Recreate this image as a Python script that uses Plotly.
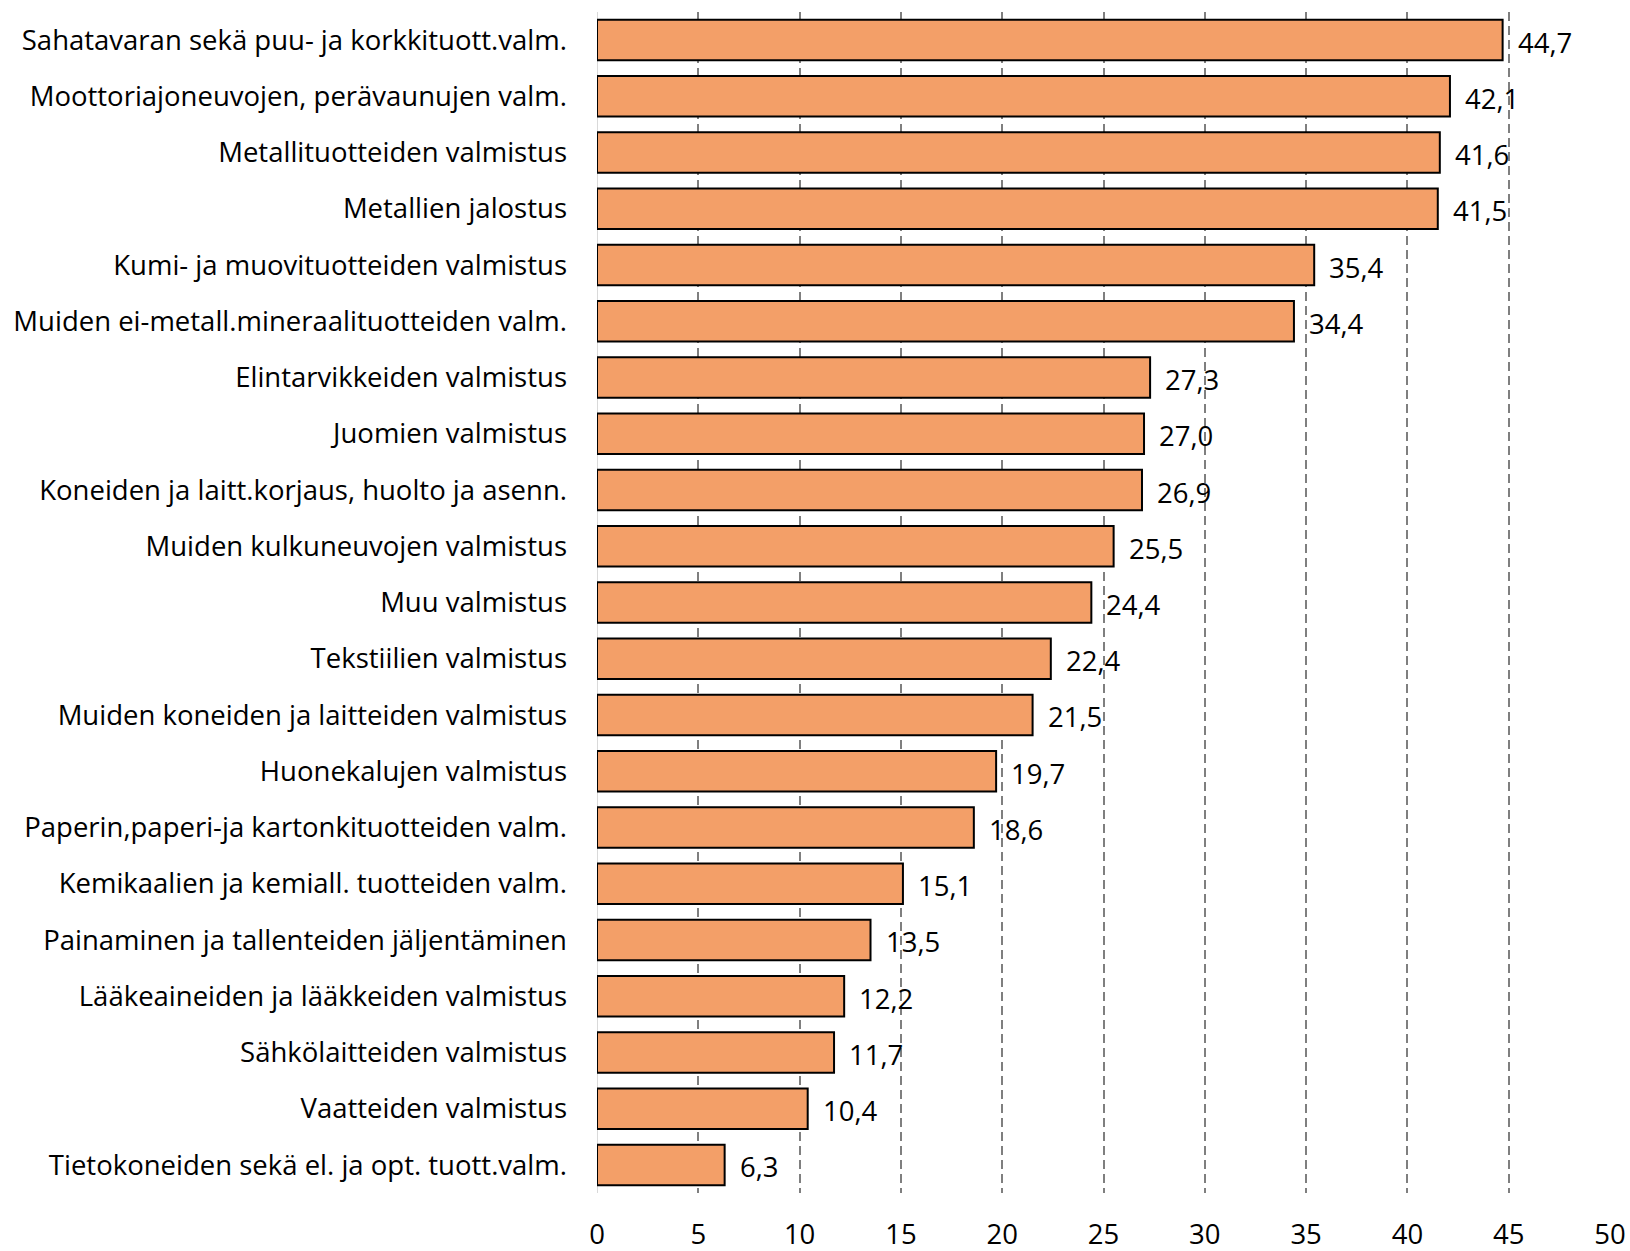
import plotly.graph_objects as go

categories = [
    "Sahatavaran sekä puu- ja korkkituott.valm.",
    "Moottoriajoneuvojen, perävaunujen valm.",
    "Metallituotteiden valmistus",
    "Metallien jalostus",
    "Kumi- ja muovituotteiden valmistus",
    "Muiden ei-metall.mineraalituotteiden valm.",
    "Elintarvikkeiden valmistus",
    "Juomien valmistus",
    "Koneiden ja laitt.korjaus, huolto ja asenn.",
    "Muiden kulkuneuvojen valmistus",
    "Muu valmistus",
    "Tekstiilien valmistus",
    "Muiden koneiden ja laitteiden valmistus",
    "Huonekalujen valmistus",
    "Paperin,paperi-ja kartonkituotteiden valm.",
    "Kemikaalien ja kemiall. tuotteiden valm.",
    "Painaminen ja tallenteiden jäljentäminen",
    "Lääkeaineiden ja lääkkeiden valmistus",
    "Sähkölaitteiden valmistus",
    "Vaatteiden valmistus",
    "Tietokoneiden sekä el. ja opt. tuott.valm.",
]
values = [44.7, 42.1, 41.6, 41.5, 35.4, 34.4, 27.3, 27.0, 26.9, 25.5, 24.4,
          22.4, 21.5, 19.7, 18.6, 15.1, 13.5, 12.2, 11.7, 10.4, 6.3]
x_ticks = [0, 5, 10, 15, 20, 25, 30, 35, 40, 45, 50]

FONT = "Open Sans"
FS = 27.5

fig = go.Figure(go.Bar(
    x=values,
    y=categories,
    orientation="h",
    marker=dict(color="#F39F68", line=dict(color="#000000", width=2)),
    width=0.72,
))

annotations = [
    dict(x=v, y=c, xref="x", yref="y", text=f"{v:.1f}".replace(".", ","),
         showarrow=False, xanchor="left", yanchor="middle", xshift=13, yshift=-2,
         font=dict(family=FONT, size=FS, color="#000000"))
    for c, v in zip(categories, values)
]

fig.update_layout(
    width=1630, height=1251,
    margin=dict(l=597, r=20, t=12, b=58, autoexpand=False),
    plot_bgcolor="white", paper_bgcolor="white",
    showlegend=False,
    font=dict(family=FONT, size=FS, color="#000000"),
    annotations=annotations,
    xaxis=dict(
        range=[0, 50], tickvals=x_ticks, ticktext=[str(t) for t in x_ticks],
        showgrid=True, gridcolor="#7F7F7F", griddash="9px,5px", gridwidth=2,
        zeroline=False, showline=False, ticks="", automargin=False,
        ticklabelstandoff=22,
        tickfont=dict(family=FONT, size=FS, color="#000000"),
    ),
    yaxis=dict(
        autorange="reversed", showgrid=False, zeroline=False, ticks="",
        showline=False, ticklabelstandoff=29, automargin=False,
        tickfont=dict(family=FONT, size=FS, color="#000000"),
    ),
    shapes=[dict(type="line", xref="x", yref="paper", x0=0, x1=0, y0=0, y1=1,
                 layer="below", line=dict(color="#D9D9D9", width=2))],
)

fig.write_html(
    "out.html",
    config={"displayModeBar": False},
    post_script="document.body.style.margin='0';document.body.style.overflow='hidden';",
)
